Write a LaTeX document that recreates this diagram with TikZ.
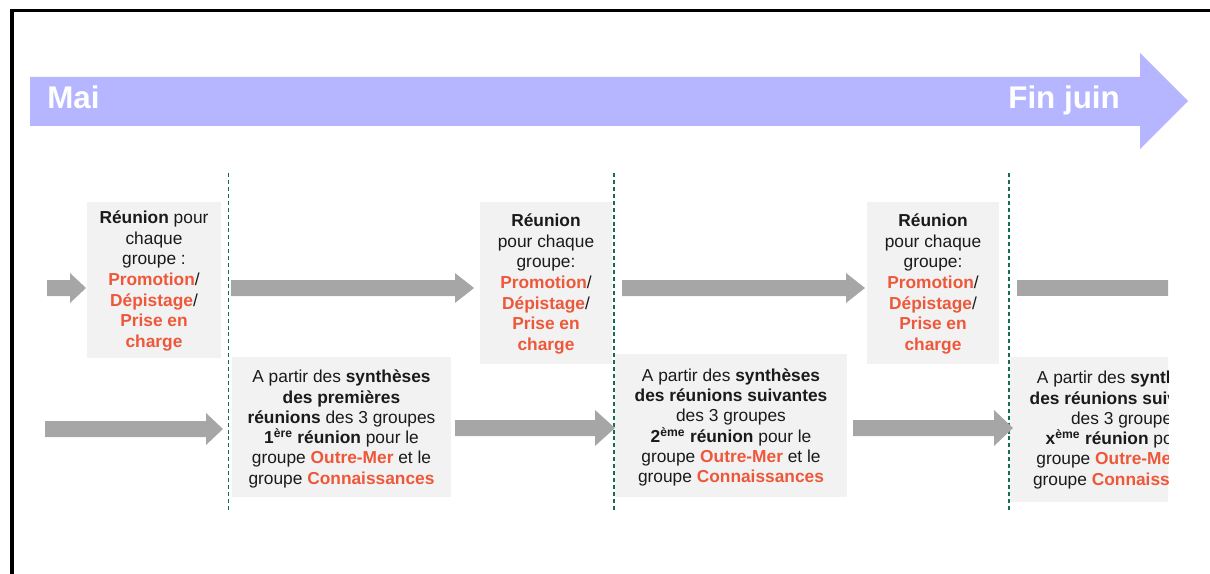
\documentclass[tikz,border=0pt]{standalone}
\usepackage{fontspec}
\setmainfont{Liberation Sans}
\usetikzlibrary{calc,fit}
\definecolor{bandblue}{RGB}{181,182,255}
\definecolor{arrgray}{RGB}{166,166,166}
\definecolor{boxgray}{RGB}{242,242,242}
\definecolor{hl}{RGB}{238,88,58}
\definecolor{dgreen}{RGB}{22,110,80}
\definecolor{ink}{RGB}{26,26,26}
\newcommand{\rb}[1]{\textcolor{hl}{\textbf{#1}}}
\newcommand{\blockarrow}[5]{%
 \fill[arrgray] ($(#1)+(0,-#3)$) -- ($(#2)+(-#5,-#3)$) -- ($(#2)+(-#5,-#4)$) -- (#2) -- ($(#2)+(-#5,#4)$) -- ($(#2)+(-#5,#3)$) -- ($(#1)+(0,#3)$) -- cycle;}
\begin{document}
\begin{tikzpicture}[x=0.75pt,y=-0.75pt,
 txt/.style={align=center, font=\fontsize{13}{15.2}\selectfont, inner sep=0pt, text=ink},
 txtup/.style={txt, font=\fontsize{13}{15.5}\selectfont},
 boxbg/.style={fill=boxgray, inner sep=0pt, draw=none},
 sepline/.style={draw=dgreen, line width=1.1pt, dash pattern=on 3pt off 2.2pt},
 month/.style={text=white, font=\fontsize{23.5}{26}\selectfont\bfseries, inner sep=0pt}]
\useasboundingbox (0,0) rectangle (1210,574);
% frame
\draw[line width=2.6pt, line join=miter] (12,580) -- (12,10.5) -- (1220,10.5);
% timeline arrow
\fill[bandblue] (30,77) -- (1140,77) -- (1140,53) -- (1188,101) -- (1140,149) -- (1140,126) -- (30,126) -- cycle;
\node[month, anchor=base west] (mai) at (47,109) {Mai};
\node[month, anchor=base east] (fin) at (1120,109) {Fin juin};
% separators
\foreach \x/\n in {228.5/1,614/2,1009/3}{
  \coordinate (s\n a) at (\x,173);
  \coordinate (s\n b) at (\x,511);
  \draw[sepline] (s\n a) -- (s\n b);
}
% upper boxes
\node[boxbg, fit={(87,202)(221,358)}] (b1) {};
\node[boxbg, fit={(480,202)(612,364)}] (b2) {};
\node[boxbg, fit={(867,202)(999,364)}] (b3) {};
% lower boxes
\node[boxbg, fit={(232,357)(451,497)}] (b4) {};
\node[boxbg, fit={(615,354)(847,497)}] (b5) {};
\begin{scope}
\clip (0,0) rectangle (1168,574);
\node[boxbg, fit={(1010,357)(1242,502)}] (b6) {};
\fill[arrgray] (1017,280) rectangle (1190,296);
\node[txt] (t6) at (1126,430) {A partir des \textbf{synthèses}\\\textbf{des réunions suivantes}\\des 3 groupes\\\textbf{x\textsuperscript{ème} réunion} pour le\\groupe \rb{Outre-Mer} et le\\groupe \rb{Connaissances}};
\end{scope}
% texts
\node[txtup] (t1) at (154,281) {\textbf{Réunion} pour\\chaque\\groupe :\\\rb{Promotion}/\\\rb{Dépistage}/\\\rb{Prise en}\\\rb{charge}};
\node[txtup] (t2) at (546,284) {\textbf{Réunion}\\pour chaque\\groupe:\\\rb{Promotion}/\\\rb{Dépistage}/\\\rb{Prise en}\\\rb{charge}};
\node[txtup] (t3) at (933,284) {\textbf{Réunion}\\pour chaque\\groupe:\\\rb{Promotion}/\\\rb{Dépistage}/\\\rb{Prise en}\\\rb{charge}};
\node[txt] (t4) at (341.5,429) {A partir des \textbf{synthèses}\\\textbf{des premières}\\\textbf{réunions} des 3 groupes\\\textbf{1\textsuperscript{ère} réunion} pour le\\groupe \rb{Outre-Mer} et le\\groupe \rb{Connaissances}};
\node[txt] (t5) at (731,427.5) {A partir des \textbf{synthèses}\\\textbf{des réunions suivantes}\\des 3 groupes\\\textbf{2\textsuperscript{ème} réunion} pour le\\groupe \rb{Outre-Mer} et le\\groupe \rb{Connaissances}};
% upper arrows
\coordinate (u0s) at (47,288);  \coordinate (u0e) at (86,288);
\coordinate (u1s) at (231,288); \coordinate (u1e) at (474,288);
\coordinate (u2s) at (622,288); \coordinate (u2e) at (865,288);
\blockarrow{u0s}{u0e}{8}{15}{16}
\blockarrow{u1s}{u1e}{8}{15}{19}
\blockarrow{u2s}{u2e}{8}{15}{19}
% lower arrows
\coordinate (l1s) at (45,429);  \coordinate (l1e) at (223,429);
\coordinate (l2s) at (455,428); \coordinate (l2e) at (615,428);
\coordinate (l3s) at (853,428); \coordinate (l3e) at (1013,428);
\blockarrow{l1s}{l1e}{8}{16}{17}
\blockarrow{l2s}{l2e}{8}{18}{20}
\blockarrow{l3s}{l3e}{8}{18}{19}
\end{tikzpicture}
\end{document}
